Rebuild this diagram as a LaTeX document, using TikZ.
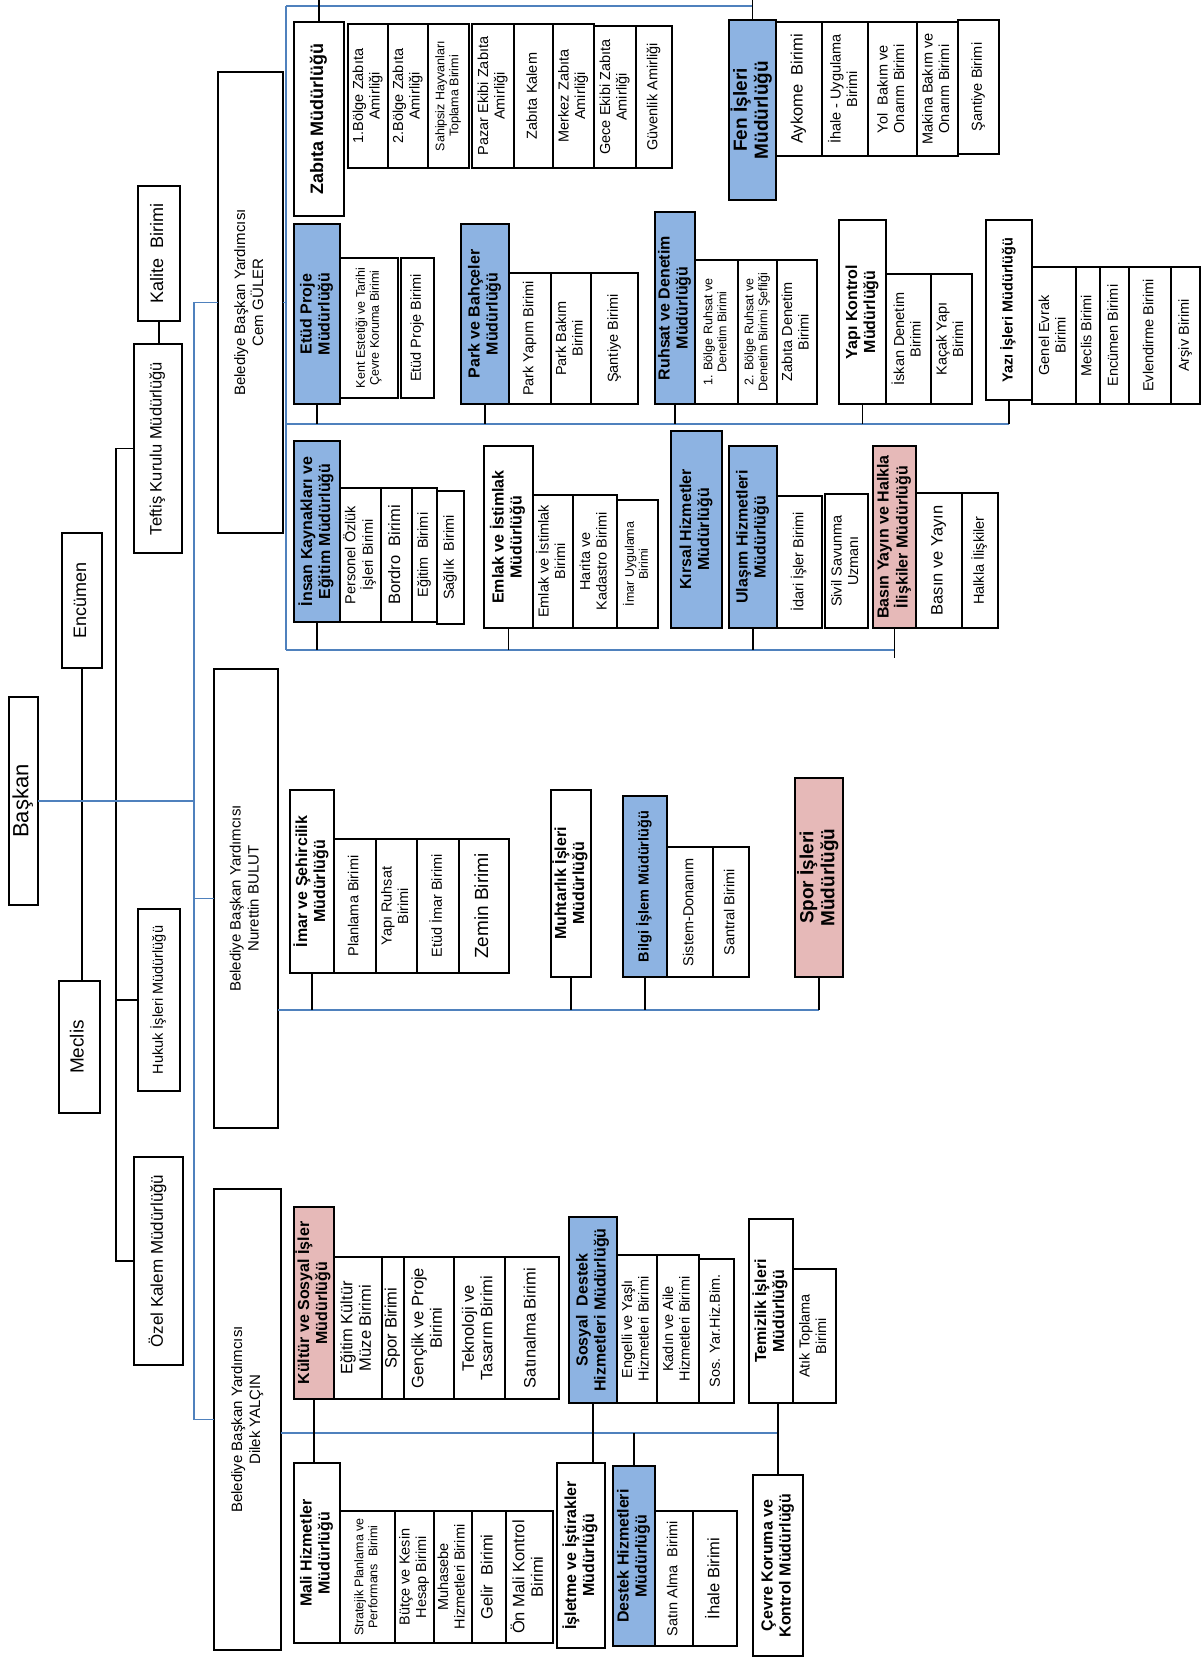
\documentclass[tikz,border=0pt]{standalone}
\usepackage{fontspec}
\setmainfont{Liberation Sans}
\usepackage{graphicx}
\definecolor{bfill}{HTML}{8DB3E2}
\definecolor{pfill}{HTML}{E6B9B8}
\definecolor{bline}{HTML}{4F81BD}
\tikzset{
 bx/.style={draw=black, line width=1.3pt, fill=white, inner sep=0pt, outer sep=0pt, rectangle},
 bfil/.style={fill=bfill},
 pfil/.style={fill=pfill},
 bl/.style={draw=bline, line width=1.2pt},
 kl/.style={draw=black, line width=1.3pt},
 fd/.style={font=\fontsize{16}{18}\selectfont\bfseries},
 fdS/.style={font=\fontsize{14.5}{17}\selectfont\bfseries},
 fdL/.style={font=\fontsize{19}{21}\selectfont\bfseries},
 fu/.style={font=\fontsize{14.5}{16.5}\selectfont},
 fuL/.style={font=\fontsize{16.5}{18.5}\selectfont},
 fs/.style={font=\fontsize{12.5}{14}\selectfont},
 fv/.style={font=\fontsize{15}{18}\selectfont},
 fT/.style={font=\fontsize{18}{20}\selectfont},
 fX/.style={font=\fontsize{19}{21}\selectfont},
}
\newcommand\OBox[7]{\node[bx,#6,minimum width={#4pt-#2pt},minimum height={#5pt-#3pt}] (#1) at ({(#2+#4)/2},{(#3+#5)/2}) {\rotatebox{90}{\begin{tabular}{@{}c@{}}#7\end{tabular}}};}
\begin{document}
\begin{tikzpicture}[x=1pt,y=-1pt]
\useasboundingbox (0,0) rectangle (1203,1657);
\fill[white] (0,0) rectangle (1203,1657);
% ---------- top level ----------
\OBox{baskan}{9}{697}{38}{905}{font=\fontsize{22}{24}\selectfont}{Başkan}
\OBox{encumen}{62}{533}{102}{668}{fT}{Encümen}
\OBox{meclis}{59}{981}{100}{1113}{fX}{Meclis}
\OBox{kalite}{138}{186}{180}{321}{fT}{Kalite\ \ Birimi}
\OBox{teftis}{134}{344}{182}{553}{fuL}{Teftiş Kurulu Müdürlüğü}
\OBox{hukuk}{138}{909}{180}{1091}{fu}{Hukuk İşleri Müdürlüğü}
\OBox{ozel}{134}{1157}{183}{1365}{font=\fontsize{17}{19}\selectfont}{Özel Kalem Müdürlüğü}
\OBox{cem}{218}{72}{283}{533}{fv}{Belediye Başkan Yardımcısı\\Cem GÜLER}
\OBox{nurettin}{214}{669}{278}{1128}{fv}{Belediye Başkan Yardımcısı\\Nurettin BULUT}
\OBox{dilek}{214}{1189}{281}{1650}{fv}{Belediye Başkan Yardımcısı\\Dilek YALÇIN}
% ---------- Cem GULER group ----------
\OBox{zabita}{294}{22}{344}{216}{font=\fontsize{18}{20}\selectfont\bfseries}{Zabıta Müdürlüğü}
\OBox{z1}{348}{24}{388}{168}{fu}{1.Bölge Zabıta\\Amirliği}
\OBox{z2}{388}{24}{428}{168}{fu}{2.Bölge Zabıta\\Amirliği}
\OBox{z3}{428}{24}{469}{168}{fs}{Sahipsiz Hayvanları\\Toplama Birimi}
\OBox{z4}{472}{24}{514}{168}{fu}{Pazar Ekibi Zabıta\\Amirliği}
\OBox{z5}{514}{24}{553}{168}{fu}{Zabıta Kalem}
\OBox{z6}{553}{24}{594}{168}{fu}{Merkez Zabıta\\Amirliği}
\OBox{z7}{594}{26}{636}{168}{fu}{Gece Ekibi Zabıta\\Amirliği}
\OBox{z8}{636}{26}{672}{168}{fu}{Güvenlik Amirliği}
\OBox{fen}{729}{20}{776}{200}{fdL,bfil}{Fen İşleri\\Müdürlüğü}
\OBox{f1}{776}{22}{822}{156}{fuL}{Aykome\ \ Birimi}
\OBox{f2}{822}{22}{868}{156}{fu}{İhale - Uygulama\\Birimi}
\OBox{f3}{868}{22}{917}{156}{fu}{Yol\ \ Bakım ve\\Onarım Birimi}
\OBox{f4}{917}{22}{958}{156}{fu}{Makina Bakım ve\\Onarım Birimi}
\OBox{f5}{958}{20}{999}{154}{fu}{Şantiye Birimi}
\OBox{etud}{294}{224}{340}{404}{fd,bfil}{Etüd Proje\\Müdürlüğü}
\OBox{e1}{340}{258}{398}{398}{fs}{Kent Estetiği ve Tarihi\\Çevre Koruma Birimi}
\OBox{e2}{401}{258}{434}{398}{fu}{Etüd Proje Birimi}
\OBox{park}{461}{224}{509}{404}{fd,bfil}{Park ve Bahçeler\\Müdürlüğü}
\OBox{p1}{509}{273}{551}{404}{fu}{Park Yapım Birimi}
\OBox{p2}{551}{273}{591}{404}{fu}{Park Bakım\\Birimi}
\OBox{p3}{591}{273}{638}{404}{fu}{Şantiye Birimi}
\OBox{ruhsat}{655}{212}{695}{404}{fd,bfil}{Ruhsat ve Denetim\\Müdürlüğü}
\OBox{r1}{695}{260}{738}{404}{fs}{1. Bölge Ruhsat ve\\Denetim Birimi}
\OBox{r2}{738}{260}{777}{404}{fs}{2. Bölge Ruhsat ve\\Denetim Birimi Şefliği}
\OBox{r3}{777}{260}{817}{404}{fu}{Zabıta Denetim\\Birimi}
\OBox{yapi}{839}{220}{886}{404}{fd}{Yapı Kontrol\\Müdürlüğü}
\OBox{y1}{886}{274}{931}{404}{fu}{İskan Denetim\\Birimi}
\OBox{y2}{931}{274}{972}{404}{fu}{Kaçak Yapı\\Birimi}
\OBox{yazi}{986}{220}{1032}{400}{fdS}{Yazı İşleri Müdürlüğü}
\OBox{yz1}{1032}{267}{1076}{404}{fu}{Genel Evrak\\Birimi}
\OBox{yz2}{1076}{267}{1100}{404}{fu}{Meclis Birimi}
\OBox{yz3}{1100}{267}{1129}{404}{fu}{Encümen Birimi}
\OBox{yz4}{1129}{267}{1171}{404}{fu}{Evlendirme Birimi}
\OBox{yz5}{1171}{267}{1200}{404}{fu}{Arşiv Birimi}
\OBox{ik}{294}{441}{340}{622}{fd,bfil}{İnsan Kaynakları ve\\Eğitim Müdürlüğü}
\OBox{ik1}{340}{488}{381}{622}{fu}{Personel Özlük\\İşleri Birimi}
\OBox{ik2}{381}{488}{412}{622}{fuL}{Bordro\ \ Birimi}
\OBox{ik3}{412}{488}{437}{622}{fu}{Eğitim\ \ Birimi}
\OBox{ik4}{437}{491}{464}{624}{fu}{Sağlık\ \ Birimi}
\OBox{emlak}{484}{446}{533}{628}{fd}{Emlak ve İstimlak\\Müdürlüğü}
\OBox{em1}{533}{495}{573}{628}{fu}{Emlak ve İstimlak\\Birimi}
\OBox{em2}{573}{495}{617}{628}{fu}{Harita ve\\Kadastro Birimi}
\OBox{em3}{617}{500}{658}{628}{fs}{İmar Uygulama\\Birimi}
\OBox{kirsal}{671}{431}{722}{628}{fd,bfil}{Kırsal Hizmetler\\Müdürlüğü}
\OBox{ulasim}{729}{446}{777}{628}{fd,bfil}{Ulaşım Hizmetleri\\Müdürlüğü}
\OBox{u1}{777}{496}{822}{628}{fu}{İdari İşler Birimi}
\OBox{u2}{825}{494}{868}{628}{fu}{Sivil Savunma\\Uzmanı}
\OBox{basin}{873}{446}{916}{628}{fd,pfil}{Basın Yayın ve Halkla\\İlişkiler Müdürlüğü}
\OBox{b1}{916}{493}{962}{628}{fuL}{Basın ve Yayın}
\OBox{b2}{962}{493}{998}{628}{fu}{Halkla İlişkiler}
% ---------- Nurettin BULUT group ----------
\OBox{imar}{290}{790}{334}{973}{fd}{İmar ve Şehircilik\\Müdürlüğü}
\OBox{i1}{334}{839}{376}{973}{fu}{Planlama Birimi}
\OBox{i2}{376}{839}{417}{973}{fu}{Yapı Ruhsat\\Birimi}
\OBox{i3}{417}{839}{459}{973}{fu}{Etüd İmar Birimi}
\OBox{i4}{459}{839}{509}{973}{fX}{Zemin Birimi}
\OBox{muhtar}{551}{790}{591}{977}{fd}{Muhtarlık İşleri\\Müdürlüğü}
\OBox{bilgi}{623}{796}{667}{977}{fdS,bfil}{Bilgi İşlem Müdürlüğü}
\OBox{bi1}{667}{847}{713}{977}{fu}{Sistem-Donanım}
\OBox{bi2}{713}{847}{749}{977}{fu}{Santral Birimi}
\OBox{spor}{795}{778}{843}{977}{fdL,pfil}{Spor İşleri\\Müdürlüğü}
% ---------- Dilek YALCIN group ----------
\OBox{kultur}{294}{1207}{334}{1399}{fd,pfil}{Kültür ve Sosyal İşler\\Müdürlüğü}
\OBox{k1}{334}{1257}{382}{1399}{fuL}{Eğitim Kültür\\Müze Birimi}
\OBox{k2}{382}{1257}{404}{1399}{fuL}{Spor Birimi}
\OBox{k3}{404}{1257}{454}{1399}{fuL}{Gençlik ve Proje\\Birimi}
\OBox{k4}{454}{1257}{505}{1399}{fuL}{Teknoloji ve\\Tasarım Birimi}
\OBox{k5}{505}{1257}{559}{1399}{fuL}{Satınalma Birimi}
\OBox{sosyal}{569}{1217}{617}{1403}{fd,bfil}{Sosyal\ \ Destek\\Hizmetleri Müdürlüğü}
\OBox{s1}{617}{1255}{657}{1403}{fu}{Engelli ve Yaşlı\\Hizmetleri Birimi}
\OBox{s2}{657}{1255}{699}{1403}{fu}{Kadın ve Aile\\Hizmetleri Birimi}
\OBox{s3}{699}{1259}{734}{1403}{fu}{Sos. Yar.Hiz.Bim.}
\OBox{temiz}{749}{1219}{793}{1403}{fd}{Temizlik İşleri\\Müdürlüğü}
\OBox{t1}{793}{1269}{836}{1403}{fu}{Atık Toplama\\Birimi}
\OBox{mali}{294}{1463}{340}{1643}{fd}{Mali Hizmetler\\Müdürlüğü}
\OBox{m1}{340}{1511}{395}{1643}{fs}{Stratejik Planlama ve\\Performans\ \ Birimi}
\OBox{m2}{395}{1511}{434}{1643}{fu}{Bütçe ve Kesin\\Hesap Birimi}
\OBox{m3}{434}{1511}{472}{1643}{fu}{Muhasebe\\Hizmetleri Birimi}
\OBox{m4}{472}{1511}{506}{1643}{fuL}{Gelir\ \ Birimi}
\OBox{m5}{506}{1511}{553}{1643}{fuL}{Ön Mali Kontrol\\Birimi}
\OBox{isletme}{557}{1463}{605}{1648}{fd}{İşletme ve İştirakler\\Müdürlüğü}
\OBox{destek}{613}{1466}{655}{1646}{fd,bfil}{Destek Hizmetleri\\Müdürlüğü}
\OBox{d1}{655}{1511}{693}{1646}{fu}{Satın Alma\ \ Birimi}
\OBox{d2}{693}{1511}{737}{1646}{fuL}{İhale Birimi}
\OBox{cevre}{753}{1475}{803}{1656}{fd}{Çevre Koruma ve\\Kontrol Müdürlüğü}
% ---------- bus coordinates ----------
\coordinate (kx) at (116,0);
\coordinate (vx) at (194,0);
\coordinate (fx) at (286,0);
\coordinate (topb) at (0,6);
\coordinate (midb) at (0,424);
\coordinate (botb) at (0,650);
\coordinate (nbus) at (0,1010);
\coordinate (dbus) at (0,1433);
% ---------- top-level connectors ----------
\draw[kl] (encumen.south) -- (encumen.south |- meclis.north);
\draw[kl] (kalite.south) -- (kalite.south |- teftis.north);
\draw[kl] (teftis.west) -- (teftis.west -| kx) -- (ozel.west -| kx) -- (ozel.west);
\draw[kl] (hukuk.west) -- (hukuk.west -| kx);
\draw[bl] (baskan.east) -- (baskan.east -| vx);
\draw[bl] (cem.west) -- (cem.west -| vx) -- (dilek.west -| vx) -- (dilek.west);
\draw[bl] (nurettin.west) -- (nurettin.west -| vx);
% ---------- Cem GULER connectors ----------
\draw[bl] (cem.east) -- (cem.east -| fx);
\draw[bl] (fx |- topb) -- (fx |- botb);
\draw[bl] (fx |- topb) -- (fen.north |- topb);
\draw[bl] (fx |- midb) -- (yazi.south |- midb);
\draw[bl] (fx |- botb) -- (basin.south |- botb);
\draw[kl] (zabita.north) -- ++(0,-22);
\draw[kl] (fen.north) -- ++(0,-20);
\foreach \n in {etud,park,ruhsat,yapi,yazi} {\draw[kl] (\n.south) -- (\n.south |- midb);}
\foreach \n in {ik,emlak,ulasim} {\draw[kl] (\n.south) -- (\n.south |- botb);}
\draw[kl] (basin.south) -- ++(0,30);
% ---------- Nurettin BULUT connectors ----------
\draw[bl] (nurettin.east |- nbus) -- (spor.south |- nbus);
\foreach \n in {imar,muhtar,bilgi,spor} {\draw[kl] (\n.south) -- (\n.south |- nbus);}
% ---------- Dilek YALCIN connectors ----------
\draw[bl] (dilek.east |- dbus) -- (cevre.north |- dbus);
\draw[kl] (kultur.south) -- (kultur.south |- mali.north);
\draw[kl] (sosyal.south) -- (sosyal.south |- isletme.north);
\draw[kl] (destek.north) -- (destek.north |- dbus);
\draw[kl] (cevre.north) -- (cevre.north |- temiz.south);
\end{tikzpicture}
\end{document}
